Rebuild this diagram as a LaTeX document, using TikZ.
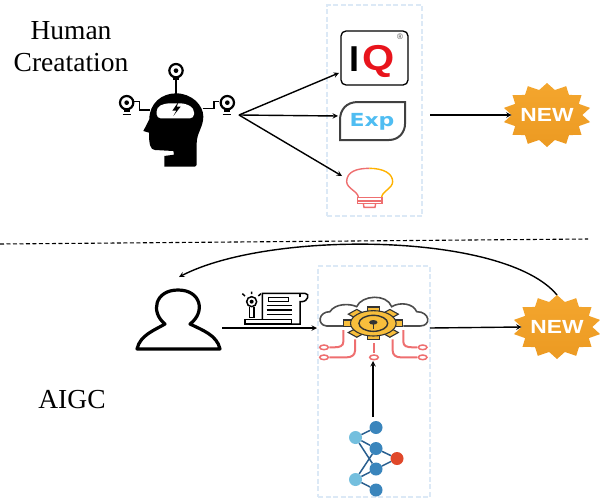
\documentclass[tikz,border=0pt]{standalone}
\usepackage{fontspec}
\setmainfont{Liberation Serif}
\newfontfamily\logofont{Liberation Sans}
\newfontfamily\expfont{DejaVu Sans}
\usetikzlibrary{arrows, backgrounds, shapes.geometric}
\definecolor{badge-orange}{HTML}{F4A62E}
\definecolor{badge-dark}{HTML}{EC9A22}
\definecolor{frame-blue}{HTML}{DCE9F6}
\definecolor{exp-blue}{HTML}{4FBDF2}
\definecolor{iq-red}{HTML}{E8141C}
\definecolor{gear-yellow}{HTML}{F8BE3C}
\definecolor{circuit-red}{HTML}{EE6F70}
\definecolor{net-dark}{HTML}{3A85BC}
\definecolor{net-light}{HTML}{74BFDE}
\definecolor{net-red}{HTML}{E0482A}
\definecolor{net-edge}{HTML}{2A5F8F}
\tikzset{
  link/.style={
    draw, ->, >=stealth, color=black, line width=1.4pt
  },
  groupframe/.style={
    draw=frame-blue, dash pattern=on 5pt off 2.5pt, line width=1.5pt
  },
  caption/.style={
    font=\fontsize{27.5}{32}\selectfont, align=center, inner sep=0pt
  },
  burst/.style={
    star, star points=14, star point ratio=1.25, minimum size=64pt,
    inner sep=0pt, outer sep=0pt, top color=badge-orange, bottom color=badge-dark,
    draw=none, xscale=1.38, transform shape
  },
  burstlabel/.style={
    font=\logofont\bfseries\fontsize{19}{19}\selectfont, text=white, inner sep=0pt,
    xscale=1.2, transform shape
  },
  netnode/.style={
    circle, minimum size=13pt, inner sep=0pt, fill=net-dark
  },
  netedge/.style={
    draw=net-edge, line width=1.5pt
  },
  wire/.style={
    draw=black, line width=1.5pt
  },
  pad/.style={
    draw=circuit-red, line width=1.5pt, fill=white
  },
  trace/.style={
    draw=circuit-red, line width=2pt
  },
  doc/.style={
    draw=black, line width=1.5pt
  }
}

\begin{document}
\begin{tikzpicture}[x=1pt, y=-1pt]
        \useasboundingbox (0,0) rectangle (600,498);

        % captions
        \node[caption] (human) at (71,47) {Human\\Creatation};
        \node[caption] (aigc) at (72,400) {AIGC};

        % separator
        \coordinate (sepleft) at (0,244);
        \coordinate (sepright) at (588,239);
        \draw[dash pattern=on 4pt off 2.5pt, line width=1.1pt] (sepleft) -- (sepright);

        % frames
        \node[groupframe, minimum width=95pt, minimum height=211pt, inner sep=0pt] (topframe) at (374.5,110.5) {};
        \node[groupframe, minimum width=112pt, minimum height=231pt, inner sep=0pt] (bottomframe) at (374,381.5) {};

        % head with three bulbs
        \begin{scope}[shift={(100,0)}, scale=1/3]
          \fill[black] (193,500) -- (193,468) -- (222,464) -- (220,453) -- (165,450)
            .. controls (150,450) and (147,430) .. (147,398) -- (130,393) -- (148,358)
            .. controls (148,310) and (185,280) .. (228,280)
            .. controls (275,280) and (310,315) .. (310,350)
            .. controls (310,380) and (290,400) .. (290,430) -- (290,495) -- (285,500) -- cycle;
          \fill[white, rounded corners=4pt] (170,355) -- (170,322) -- (195,310) -- (255,310) -- (282,325) -- (282,355) -- cycle;
          \fill[black] (237,303) -- (217,332) -- (229,332) -- (220,348) -- (242,320) -- (230,320) -- cycle;
          \draw[wire] (228,240) -- (228,282);
          \draw[wire] (150,330) -- (118,330) -- (118,305) -- (103,305);
          \draw[wire] (308,325) -- (342,325) -- (342,305) -- (358,305);
          \foreach \bx/\by in {228/212, 80/308, 382/308} {
            \draw[black, line width=2.2pt] (\bx,\by) circle (20);
            \fill[black] (\bx,\by) circle (7);
            \fill[black] (\bx-9,\by+17) rectangle (\bx+9,\by+28);
          }
          \draw[black, line width=1.5pt] (68,344) -- (92,344);
          \draw[black, line width=1.5pt] (368,344) -- (392,344);
        \end{scope}
        \coordinate (headtip) at (239,115);

        % IQ logo
        \node[draw=black, line width=1.3pt, rounded corners=5pt, minimum width=67pt, minimum height=54pt, inner sep=0pt, outer sep=2pt] (iq) at (374.5,58) {};
        \node[font=\logofont\bfseries\fontsize{36}{36}\selectfont, inner sep=0pt] (iqi) at (354.5,59) {I};
        \node[font=\logofont\bfseries\fontsize{36}{36}\selectfont, text=iq-red, inner sep=0pt, xscale=1.15, transform shape] (iqq) at (379,61) {Q};
        \node[font=\logofont\fontsize{8}{8}\selectfont, text=black!70, inner sep=0pt] (iqr) at (400,36.5) {\textregistered};

        % Exp logo
        \draw[draw=black!75, line width=2pt] (405,102) -- (358,102)
          .. controls (346,102) and (340,110) .. (340,120) -- (340,140) -- (389,140)
          .. controls (399,140) and (405,132) .. (405,124) -- cycle;
        \node[font=\expfont\bfseries\fontsize{18}{18}\selectfont, text=exp-blue, inner sep=0pt, xscale=1.22, transform shape] (exp) at (372,122) {Exp};
        \coordinate (exptip) at (338,116);
        \coordinate (expout) at (430,115);

        % bulb
        \begin{scope}[shift={(100,0)}, scale=1/3]
          \draw[circuit-red, line width=1.4pt] (808,505) .. controls (770,505) and (740,515) .. (740,545)
            .. controls (740,565) and (775,575) .. (775,592);
          \draw[orange!60!yellow, line width=1.4pt] (808,505) .. controls (850,505) and (878,520) .. (878,545)
            .. controls (878,565) and (845,575) .. (845,592);
          \draw[circuit-red, line width=1.4pt] (773,592) rectangle (846,603) (773,603) rectangle (846,610);
          \draw[circuit-red, line width=1.4pt] (790,610) -- (792,622) -- (825,622) -- (827,610);
        \end{scope}
        \coordinate (bulbtip) at (342,176);

        % top badge
        \node[burst] (newone) at (547,115) {};
        \node[burstlabel] (newonetext) at (547,115) {NEW};

        % user
        \draw[black, line width=3.2pt, line join=round] (137,349) .. controls (140,335) and (155,330) .. (165,324)
          .. controls (150,312) and (155,290) .. (178,290)
          .. controls (201,290) and (206,312) .. (190,324)
          .. controls (202,330) and (217,335) .. (220,349) -- cycle;
        \coordinate (userout) at (222,328);
        \coordinate (usertip) at (179,277);

        % document with key
        \begin{scope}[shift={(130,260)}, scale=1/3]
          \draw[doc] (365,125) circle (15);
          \fill[black] (365,125) circle (6);
          \draw[doc] (358,140) -- (358,172) -- (372,172) -- (372,140);
          \draw[doc] (345,108) -- (337,101) (365,102) -- (365,95) (385,108) -- (393,101);
          \draw[doc] (345,178) rectangle (485,192);
          \draw[doc] (397,178) -- (397,100) -- (525,100)
            .. controls (540,100) and (535,125) .. (515,125) -- (510,125) -- (510,192) -- (485,192);
          \draw[doc] (510,110) -- (510,100);
          \draw[doc] (415,112) rectangle (475,125);
          \foreach \ly in {137, 150, 163} {
            \draw[doc] (410,\ly) -- (487,\ly);
          }
        \end{scope}

        % cloud with gear and circuit
        \begin{scope}[shift={(130,260)}, scale=1/3]
          \draw[black!70, line width=1.6pt] (640,198) -- (590,198)
            .. controls (560,195) and (565,155) .. (600,155)
            .. controls (615,130) and (660,130) .. (680,140)
            .. controls (695,105) and (770,100) .. (785,140)
            .. controls (810,125) and (850,130) .. (860,155)
            .. controls (900,155) and (905,198) .. (870,198) -- (820,198);
          \begin{scope}[shift={(730,190)}, xscale=1.8]
            \foreach \a in {0,45,...,315} {
              \draw[fill=gear-yellow, draw=black!80, line width=1.1pt, rotate=\a] (-10,-49) rectangle (10,-32);
            }
            \draw[fill=gear-yellow, draw=black!80, line width=1.1pt] (0,0) circle (38);
            \draw[draw=black!80, line width=1.4pt] (0,0) circle (24);
            \fill[black!80] (0,-3) circle (7);
            \draw[black!80, line width=1.4pt] (0,-3) -- (0,16);
          \end{scope}
          \draw[trace] (640,210) -- (640,245) .. controls (640,258) and (630,262) .. (612,262) -- (598,262);
          \draw[trace] (675,238) -- (675,272) .. controls (675,285) and (665,292) .. (650,292) -- (598,292);
          \draw[trace] (732,250) -- (732,278);
          \draw[trace] (820,210) -- (820,245) .. controls (820,258) and (830,262) .. (848,262) -- (862,262);
          \draw[trace] (788,238) -- (788,272) .. controls (788,285) and (798,292) .. (812,292) -- (862,292);
          \foreach \px/\py in {582/262, 582/292, 732/292, 878/262, 878/292} {
            \draw[pad] (\px,\py) ellipse (13 and 7);
          }
        \end{scope}
        \coordinate (cloudin) at (317,328);
        \coordinate (cloudout) at (430,328);
        \coordinate (cloudbottom) at (373,361);

        % small network
        \node[netnode] (n1) at (376,427.5) {};
        \node[netnode] (n2) at (376,448.5) {};
        \node[netnode] (n3) at (376,469) {};
        \node[netnode] (n4) at (376,490) {};
        \node[netnode, fill=net-light] (l1) at (355.5,437.5) {};
        \node[netnode, fill=net-light] (l2) at (355.5,479.5) {};
        \node[netnode, fill=net-red] (r1) at (397,458.5) {};
        \foreach \a/\b in {l1/n1, l1/n2, l1/n3, l2/n2, l2/n3, l2/n4, n2/r1, n3/r1} {
          \draw[netedge] (\a) -- (\b);
        }
        \coordinate (netout) at (373,417);

        % bottom badge
        \node[burst] (newtwo) at (557,327) {};
        \node[burstlabel] (newtwotext) at (557,327) {NEW};

        % connectors
        \draw[link] (headtip) -- (iq);
        \draw[link] (headtip) -- (exptip);
        \draw[link] (headtip) -- (bulbtip);
        \draw[link] (expout) -- (newone.west);
        \draw[link] (userout) -- (cloudin);
        \draw[link] (cloudout) -- (newtwo.west);
        \draw[link] (netout) -- (cloudbottom);
        \draw[link] (newtwo.north) .. controls (505,232) and (270,230) .. (usertip);
      \end{tikzpicture}
\end{document}
